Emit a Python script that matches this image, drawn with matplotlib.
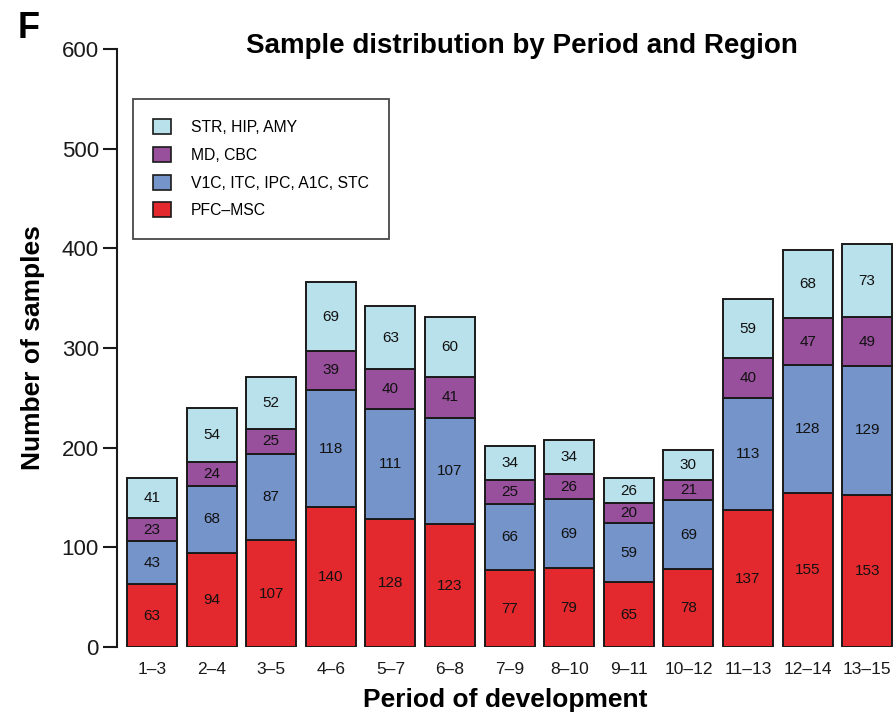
import numpy as np
import matplotlib.pyplot as plt
from matplotlib.patches import Patch

plt.rcParams['font.family'] = ['Liberation Sans', 'DejaVu Sans']

# Data
periods = ["1–3", "2–4", "3–5", "4–6", "5–7", "6–8", "7–9", "8–10",
           "9–11", "10–12", "11–13", "12–14", "13–15"]
pfc_msc = [63, 94, 107, 140, 128, 123, 77, 79, 65, 78, 137, 155, 153]
v1c_etc = [43, 68, 87, 118, 111, 107, 66, 69, 59, 69, 113, 128, 129]
md_cbc = [23, 24, 25, 39, 40, 41, 25, 26, 20, 21, 40, 47, 49]
str_hip_amy = [41, 54, 52, 69, 63, 60, 34, 34, 26, 30, 59, 68, 73]

series = [
    ("PFC–MSC", pfc_msc, "#E3292E"),
    ("V1C, ITC, IPC, A1C, STC", v1c_etc, "#7594CA"),
    ("MD, CBC", md_cbc, "#984F9C"),
    ("STR, HIP, AMY", str_hip_amy, "#B9E1EB"),
]

fig = plt.figure(figsize=(8.94, 7.19), dpi=100)
ax = fig.add_axes([117 / 894, 1 - 647 / 719, 1 - 117 / 894, 598 / 719])

x = np.arange(len(periods))
bottom = np.zeros(len(periods))
for name, vals, color in series:
    vals = np.array(vals)
    ax.bar(x, vals, width=0.84, bottom=bottom, color=color,
           edgecolor="#1a1a1a", linewidth=1.4, label=name)
    # value labels in the middle of each segment
    for xi, b, v in zip(x, bottom, vals):
        ax.text(xi, b + v / 2, str(v), ha="center", va="center",
                fontsize=11, color="#111111")
    bottom += vals

ax.set_xlim(-0.587, 12.45)
ax.set_ylim(0, 600)
ax.set_yticks(range(0, 601, 100))
ax.set_xticks(x)
ax.set_xticklabels(periods)

for s in ["top", "right", "bottom"]:
    ax.spines[s].set_visible(False)
ax.spines["left"].set_linewidth(1.5)
ax.spines["left"].set_color("#1a1a1a")

ax.tick_params(axis="y", length=10, width=1.5, pad=3, labelsize=16,
               color="#1a1a1a", labelcolor="#1a1a1a")
ax.tick_params(axis="x", length=0, pad=11, labelsize=12.5,
               labelcolor="#1a1a1a")

ax.set_ylabel("Number of samples", fontsize=19, fontweight="bold", labelpad=12)
ax.set_xlabel("Period of development", fontsize=19, fontweight="bold", labelpad=8)

fig.text(522 / 894, 1 - 46 / 719, "Sample distribution by Period and Region",
         ha="center", va="center", fontsize=20, fontweight="bold")
fig.text(18 / 894, 1 - 28 / 719, "F", ha="left", va="center",
         fontsize=26, fontweight="bold")

handles = [Patch(facecolor=c, edgecolor="#1a1a1a", linewidth=1.2, label=n)
           for n, _, c in series[::-1]]
leg = ax.legend(handles=handles, loc="upper left",
                bbox_to_anchor=((133 - 117) / 777, (647 - 99) / 598),
                borderaxespad=0, fontsize=11.3, frameon=True, fancybox=False,
                handlelength=1.1, handleheight=1.1, handletextpad=1.3,
                labelspacing=0.75, borderpad=1.3)
leg.get_frame().set_edgecolor("#1a1a1a")
leg.get_frame().set_linewidth(1.3)

fig.savefig("out.png", dpi=100)
